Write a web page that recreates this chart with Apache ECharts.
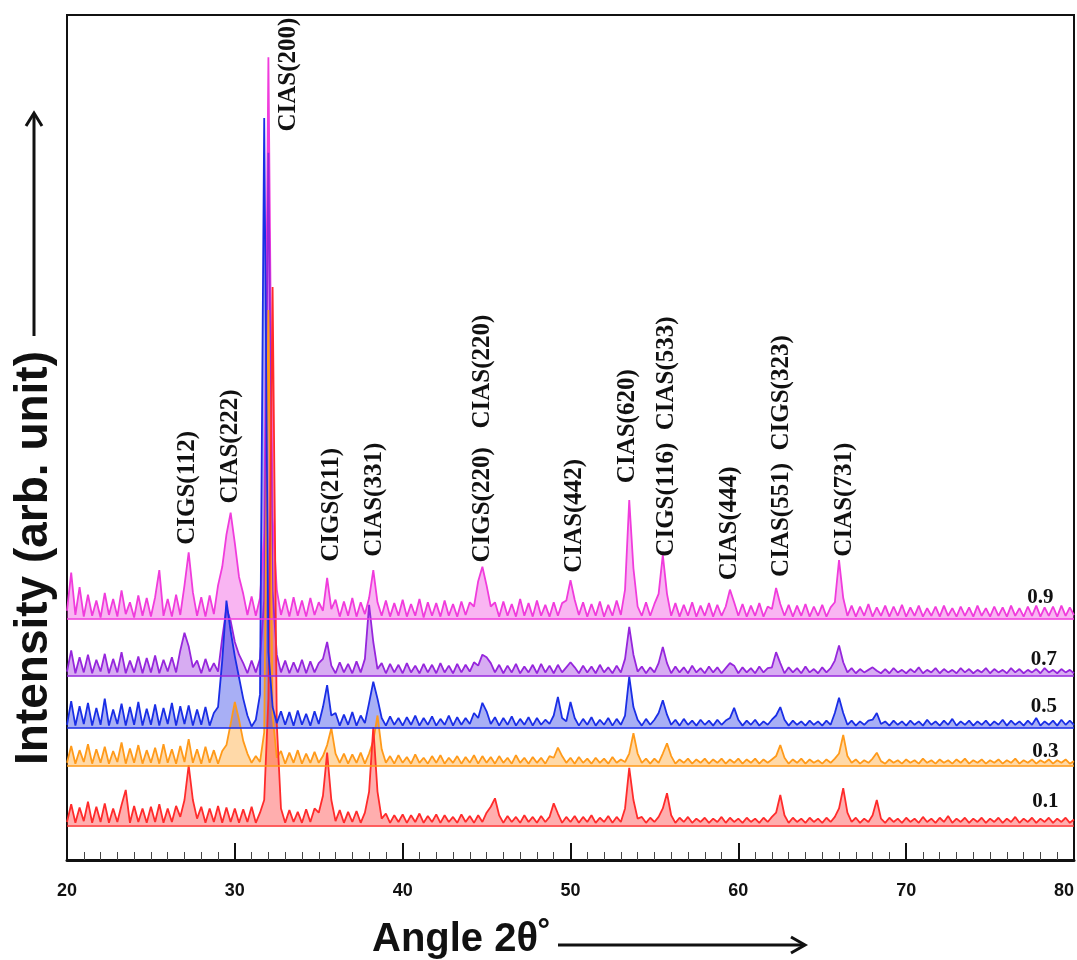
<!DOCTYPE html>
<html>
<head>
<meta charset="UTF-8">
<title>XRD CIGS / CIAS</title>
<script src="https://cdn.jsdelivr.net/npm/echarts@6/dist/echarts.min.js"></script>
</head>
<body style="margin:0;background:#ffffff">
<div id="main" style="width:1077px;height:960px"></div>
<script>
// scan grid: 20..80 deg, 0.25 deg step
var scanStart = 20, scanStep = 0.25;

var seriesNames = ['0.9', '0.7', '0.5', '0.3', '0.1'];
var offsets = [28.5, 21.8, 15.6, 11.1, 4.1];   // vertical shift of each pattern
var colors = ['#f03cdc', '#9626dc', '#1a2ee6', '#ff9a1a', '#ff2b2b'];

// intensity above each pattern's own baseline
var y09 = [
  1.0, 5.5, 0.5, 3.8, 0.3, 2.9, 0.4, 2.2, 0.2, 3.1, 0.5, 2.4, 0.3, 3.4, 0.6, 2.0, 0.2, 2.8, 0.4, 2.5,
  0.3, 2.6, 5.8, 0.4, 2.4, 0.3, 2.9, 0.5, 4.0, 7.9, 3.2, 0.4, 2.6, 0.3, 2.8, 0.6, 4.0, 6.2, 10.0, 12.6,
  9.0, 5.0, 3.0, 0.5, 2.7, 0.4, 2.5, 10.0, 66.5, 12.0, 3.5, 0.5, 2.4, 0.3, 2.6, 0.4, 2.2, 0.3, 2.5, 0.5,
  2.0, 1.0, 4.9, 1.2, 2.3, 0.3, 2.1, 0.4, 2.5, 0.3, 2.0, 0.6, 2.5, 5.8, 2.0, 0.4, 2.2, 0.3, 1.9, 0.4,
  2.3, 0.3, 1.8, 0.4, 2.4, 0.2, 2.0, 0.4, 1.9, 0.3, 2.2, 0.4, 1.8, 0.3, 2.1, 0.5, 2.0, 1.5, 4.5, 6.2,
  4.0, 1.5, 2.0, 0.3, 2.1, 0.4, 1.8, 0.3, 2.4, 0.4, 1.9, 0.3, 2.2, 0.4, 1.7, 0.3, 2.0, 0.4, 1.9, 2.2,
  4.6, 2.3, 0.5, 2.0, 0.3, 1.8, 0.4, 2.1, 0.3, 1.7, 0.4, 2.2, 0.5, 3.5, 14.1, 6.0, 1.5, 0.4, 2.0, 0.4,
  1.8, 3.0, 7.6, 3.0, 0.4, 1.9, 0.3, 1.7, 0.4, 2.0, 0.3, 1.6, 0.4, 1.9, 0.3, 1.7, 0.4, 1.5, 3.5, 2.0,
  0.4, 1.8, 0.3, 1.6, 0.4, 1.9, 0.3, 1.5, 1.2, 3.7, 1.8, 0.4, 1.7, 0.3, 1.6, 0.4, 1.8, 0.3, 1.5, 0.4,
  1.7, 0.3, 1.4, 2.0, 7.0, 2.5, 0.4, 1.6, 0.3, 1.5, 0.4, 1.8, 0.3, 1.4, 0.4, 1.6, 0.3, 1.5, 0.4, 1.7,
  0.3, 1.4, 0.4, 1.6, 0.3, 1.3, 0.4, 1.5, 0.3, 1.6, 0.4, 1.3, 0.3, 1.5, 0.4, 1.4, 0.3, 1.6, 0.4, 1.3,
  0.3, 1.5, 0.4, 1.4, 0.3, 1.6, 0.4, 1.3, 0.3, 1.5, 0.4, 1.6, 0.3, 1.4, 0.4, 1.5, 0.3, 1.6, 0.4, 1.4,
  0.5
];
var y07 = [
  0.5, 3.0, 0.3, 2.2, 0.4, 2.5, 0.3, 1.9, 0.5, 2.6, 0.3, 2.0, 0.4, 2.8, 0.3, 1.8, 0.4, 2.3, 0.3, 2.1,
  0.4, 2.4, 0.3, 1.9, 0.5, 2.2, 0.4, 3.0, 5.1, 3.5, 1.0, 1.8, 0.3, 2.0, 0.5, 1.5, 0.5, 4.5, 8.0, 6.5,
  4.0, 2.5, 1.5, 0.3, 1.8, 0.4, 2.0, 9.0, 61.9, 10.0, 2.5, 0.4, 1.8, 0.3, 1.6, 0.4, 1.9, 0.3, 1.7, 0.4,
  1.5, 2.0, 4.0, 1.2, 0.3, 1.6, 0.4, 1.4, 0.3, 1.7, 0.4, 2.0, 8.4, 4.0, 0.8, 1.5, 0.3, 1.4, 0.4, 1.3,
  0.3, 1.5, 0.4, 1.2, 0.3, 1.4, 0.4, 1.3, 0.3, 1.5, 0.4, 1.2, 0.3, 1.4, 0.4, 1.3, 0.5, 1.6, 1.2, 2.5,
  2.2, 1.5, 0.4, 1.3, 0.3, 1.2, 0.4, 1.4, 0.3, 1.1, 0.4, 1.3, 0.3, 1.4, 0.4, 1.2, 0.3, 1.3, 0.4, 1.0,
  1.6, 1.0, 0.3, 1.2, 0.4, 1.1, 0.3, 1.3, 0.4, 1.0, 0.3, 1.2, 0.4, 2.0, 5.8, 2.5, 0.5, 1.1, 0.3, 1.0,
  0.4, 1.5, 3.4, 1.5, 0.3, 1.1, 0.4, 1.0, 0.3, 1.2, 0.4, 0.9, 0.3, 1.1, 0.4, 1.0, 0.3, 0.9, 1.5, 1.2,
  0.3, 1.0, 0.4, 0.9, 0.3, 1.1, 0.4, 0.9, 1.0, 2.8, 1.5, 0.3, 1.0, 0.4, 0.9, 0.3, 1.1, 0.4, 0.8, 0.3,
  1.0, 0.4, 0.9, 1.8, 3.6, 1.6, 0.4, 0.9, 0.3, 0.8, 0.4, 0.7, 1.0, 0.6, 0.3, 0.8, 0.3, 0.9, 0.4, 0.7,
  0.3, 0.8, 0.4, 1.0, 0.3, 0.7, 0.4, 0.9, 0.3, 0.8, 0.4, 0.7, 0.3, 0.9, 0.4, 0.8, 0.3, 0.7, 0.4, 0.9,
  0.3, 0.8, 0.4, 0.7, 0.3, 0.9, 0.4, 0.8, 0.3, 0.7, 0.4, 0.8, 0.3, 0.9, 0.4, 0.7, 0.3, 0.8, 0.4, 0.7,
  0.3
];
var y05 = [
  0.4, 3.2, 0.3, 2.6, 0.5, 3.0, 0.3, 2.4, 0.4, 3.5, 0.3, 2.2, 0.5, 2.9, 0.3, 2.5, 0.4, 3.1, 0.3, 2.3,
  0.4, 2.8, 0.3, 2.4, 0.5, 3.0, 0.3, 2.6, 0.5, 2.7, 0.3, 2.2, 0.4, 2.5, 0.3, 1.8, 2.5, 8.0, 15.1, 11.5,
  8.5, 6.0, 3.5, 1.5, 0.2, 1.0, 4.0, 72.2, 9.0, 2.5, 0.6, 2.0, 0.4, 1.9, 0.3, 2.1, 0.4, 1.7, 0.3, 2.0,
  0.5, 2.5, 5.1, 1.5, 1.8, 0.3, 1.6, 0.4, 1.9, 0.3, 1.5, 0.6, 3.0, 5.5, 3.5, 1.2, 0.3, 1.4, 0.4, 1.2,
  0.3, 1.3, 0.4, 1.5, 0.3, 1.2, 0.4, 1.4, 0.3, 1.1, 0.4, 1.5, 0.3, 1.3, 0.4, 1.2, 0.5, 1.8, 1.2, 3.0,
  2.0, 0.5, 1.3, 0.3, 1.2, 0.4, 1.4, 0.3, 1.1, 0.4, 1.3, 0.3, 1.2, 0.4, 1.0, 0.5, 1.5, 3.7, 1.2, 0.8,
  3.1, 1.2, 0.3, 1.1, 0.4, 1.3, 0.3, 1.0, 0.4, 1.2, 0.3, 1.1, 0.4, 1.5, 6.1, 2.5, 1.0, 0.3, 1.1, 0.4,
  1.0, 1.8, 3.3, 1.6, 0.4, 1.0, 0.3, 1.1, 0.4, 0.9, 0.3, 1.0, 0.4, 0.9, 0.3, 1.0, 0.4, 0.9, 1.2, 2.4,
  1.0, 0.3, 0.9, 0.4, 1.0, 0.3, 0.8, 0.4, 1.0, 1.5, 2.5, 1.0, 0.3, 0.9, 0.4, 0.8, 0.3, 0.9, 0.4, 0.8,
  0.3, 0.9, 0.4, 1.8, 3.6, 1.8, 0.4, 0.9, 0.3, 0.8, 0.4, 0.9, 1.0, 1.8, 0.5, 0.8, 0.3, 0.9, 0.4, 0.8,
  0.3, 0.9, 0.4, 0.8, 0.3, 1.0, 0.4, 0.8, 0.3, 0.9, 0.4, 1.1, 0.3, 0.8, 0.4, 0.9, 0.3, 0.8, 0.4, 0.9,
  0.3, 0.8, 0.4, 1.0, 0.3, 0.9, 0.4, 0.8, 0.3, 0.9, 0.4, 1.2, 0.3, 0.8, 0.4, 0.9, 0.3, 1.0, 0.4, 0.9,
  0.4
];
var y03 = [
  0.4, 2.4, 0.3, 1.9, 0.5, 2.6, 0.3, 2.0, 0.4, 2.3, 0.3, 1.8, 0.5, 2.8, 0.3, 2.1, 0.4, 2.5, 0.3, 1.9,
  0.4, 2.2, 0.3, 2.6, 0.4, 2.0, 0.3, 2.4, 0.5, 3.2, 0.4, 2.0, 0.3, 2.3, 0.4, 1.9, 0.3, 1.8, 2.5, 5.0,
  7.6, 5.5, 3.0, 1.5, 0.4, 1.2, 0.5, 4.0, 54.0, 6.0, 1.0, 1.8, 0.3, 1.6, 0.4, 1.9, 0.3, 1.5, 0.4, 1.7,
  0.4, 1.2, 2.5, 4.5, 1.5, 0.4, 1.5, 0.3, 1.4, 0.4, 1.6, 0.3, 1.5, 3.0, 6.0, 2.0, 0.4, 1.2, 0.3, 1.3,
  0.4, 1.1, 0.3, 1.4, 0.4, 1.0, 0.3, 1.2, 0.4, 1.3, 0.3, 1.0, 0.4, 1.2, 0.3, 1.1, 0.4, 1.3, 0.3, 1.2,
  0.4, 1.1, 0.3, 1.2, 0.4, 1.0, 0.3, 1.3, 0.4, 1.0, 0.3, 1.1, 0.4, 1.0, 0.3, 1.2, 1.0, 2.2, 1.2, 0.4,
  1.0, 0.3, 1.1, 0.4, 0.9, 0.3, 1.0, 0.4, 0.9, 0.3, 1.1, 0.4, 0.8, 0.5, 1.5, 3.9, 1.5, 0.4, 0.9, 0.3,
  0.9, 0.4, 1.5, 2.7, 1.2, 0.3, 0.8, 0.4, 0.9, 0.3, 0.8, 0.4, 0.9, 0.3, 0.8, 0.4, 0.9, 0.3, 0.8, 0.4,
  0.9, 0.3, 0.8, 0.4, 0.9, 0.3, 0.8, 0.4, 0.8, 1.2, 2.5, 1.0, 0.3, 0.8, 0.4, 0.9, 0.3, 0.8, 0.4, 0.7,
  0.3, 0.8, 0.4, 0.9, 1.5, 3.7, 1.2, 0.4, 0.8, 0.3, 0.7, 0.4, 0.9, 1.6, 0.6, 0.3, 0.8, 0.4, 0.7, 0.3,
  0.8, 0.4, 0.7, 0.3, 0.9, 0.4, 0.7, 0.3, 0.8, 0.4, 0.7, 0.3, 0.8, 0.4, 0.9, 0.3, 0.7, 0.4, 0.8, 0.3,
  0.7, 0.4, 0.8, 0.3, 0.7, 0.4, 0.9, 0.3, 0.7, 0.4, 0.8, 0.3, 0.7, 0.4, 0.8, 0.3, 0.7, 0.4, 0.8, 0.3,
  0.6
];
var y01 = [
  0.4, 2.5, 0.3, 2.1, 0.5, 2.8, 0.3, 2.2, 0.4, 2.6, 0.3, 2.0, 0.4, 2.4, 4.2, 0.3, 2.3, 0.4, 2.0, 0.3,
  2.2, 0.4, 2.5, 0.3, 2.0, 0.4, 2.3, 1.0, 3.0, 7.1, 3.0, 0.8, 2.2, 0.3, 2.0, 0.4, 2.3, 0.3, 2.1, 0.4,
  2.0, 0.3, 1.9, 0.4, 2.2, 0.3, 1.5, 3.0, 15.0, 63.7, 12.0, 2.0, 0.3, 1.8, 0.4, 1.6, 0.3, 1.9, 0.4, 2.0,
  1.5, 3.5, 8.6, 3.0, 0.5, 1.8, 0.3, 1.6, 0.4, 1.7, 0.3, 1.5, 4.0, 11.6, 4.0, 0.8, 1.4, 0.3, 1.2, 0.4,
  1.3, 0.3, 1.2, 0.4, 1.4, 0.3, 1.1, 0.4, 1.3, 0.3, 1.2, 0.4, 1.0, 0.3, 1.3, 0.4, 1.1, 0.3, 1.2, 0.4,
  1.5, 2.2, 3.2, 1.2, 0.3, 1.1, 0.4, 1.0, 0.3, 1.2, 0.4, 1.0, 0.3, 1.1, 0.4, 1.0, 2.6, 1.4, 0.3, 1.0,
  0.4, 1.1, 0.3, 1.0, 0.4, 1.2, 0.3, 0.9, 0.4, 1.1, 0.3, 1.0, 0.4, 2.0, 6.8, 3.0, 0.8, 1.0, 0.3, 0.9,
  0.4, 1.0, 2.0, 3.8, 1.2, 0.3, 0.9, 0.4, 1.0, 0.3, 0.8, 0.4, 0.9, 0.3, 0.8, 0.4, 1.0, 0.3, 0.9, 0.4,
  0.8, 0.3, 0.9, 0.4, 0.8, 0.3, 0.9, 0.4, 1.0, 1.5, 3.6, 1.2, 0.3, 0.9, 0.4, 0.8, 0.3, 0.9, 0.4, 0.8,
  0.3, 0.9, 0.4, 1.0, 2.0, 4.4, 1.5, 0.4, 0.9, 0.3, 0.8, 0.4, 1.2, 3.0, 0.8, 0.3, 0.9, 0.4, 0.8, 0.3,
  0.9, 0.4, 0.8, 0.3, 1.0, 0.4, 0.8, 0.3, 0.9, 0.4, 1.1, 0.3, 0.8, 0.4, 0.9, 0.3, 0.8, 0.4, 0.9, 0.3,
  0.8, 0.4, 0.9, 0.3, 0.8, 0.4, 1.0, 0.3, 0.8, 0.4, 0.9, 0.3, 0.8, 0.4, 0.9, 0.3, 0.8, 0.4, 0.9, 0.3,
  0.7
];
var patterns = [y09, y07, y05, y03, y01];

// peak annotations: [2theta, intensity at text foot, text]
var peakLabels = [
  [27.2, 37.3, 'CIGS(112)'],
  [29.76, 42.2, 'CIAS(222)'],
  [33.2, 86.2, 'CIAS(200)'],
  [35.77, 35.3, 'CIGS(211)'],
  [38.33, 35.9, 'CIAS(331)'],
  [44.76, 35.2, 'CIGS(220)   CIAS(220)'],
  [50.24, 34.0, 'CIAS(442)'],
  [53.39, 44.6, 'CIAS(620)'],
  [55.71, 35.9, 'CIGS(116)  CIAS(533)'],
  [59.46, 33.1, 'CIAS(444)'],
  [62.56, 33.5, 'CIAS(551)  CIGS(323)'],
  [66.31, 35.9, 'CIAS(731)']
];
// composition tags at the right end of each pattern: [2theta, intensity]
var tagPos = [[78.0, 31.1], [78.2, 23.7], [78.2, 18.1], [78.3, 12.8], [78.3, 6.9]];

var xTicks = [20, 30, 40, 50, 60, 70, 80];

var myChart = echarts.init(document.getElementById('main'));

// draw order: magenta, purple, orange, red, blue on top
var drawOrder = [0, 1, 3, 4, 2];
var series = drawOrder.map(function (k) {
  var data = patterns[k].map(function (v, i) {
    return [scanStart + i * scanStep, offsets[k] + v];
  });
  return {
    name: seriesNames[k],
    type: 'line',
    data: data,
    symbol: 'none',
    animation: false,
    lineStyle: { color: colors[k], width: 1.8 },
    itemStyle: { color: colors[k] },
    // noisy band filled down to its own baseline
    areaStyle: { color: colors[k], opacity: 0.38, origin: offsets[k] },
    markLine: {
      silent: true,
      symbol: 'none',
      animation: false,
      label: { show: false },
      lineStyle: { color: colors[k], width: 1.5, type: 'solid' },
      data: [{ yAxis: offsets[k] }]
    }
  };
});

var option = {
  backgroundColor: '#ffffff',
  animation: false,
  grid: {
    left: 67, right: 3, top: 15, bottom: 100,
    show: true, borderColor: '#111', borderWidth: 2, backgroundColor: 'transparent'
  },
  xAxis: {
    type: 'value',
    min: xTicks[0],
    max: xTicks[xTicks.length - 1],
    interval: 10,
    axisLine: { lineStyle: { color: '#111', width: 3 } },
    axisTick: { inside: true, length: 17, lineStyle: { color: '#111', width: 2 } },
    minorTick: { show: true, splitNumber: 10, length: 8, lineStyle: { color: '#444', width: 1 } },
    splitLine: { show: false },
    axisLabel: {
      margin: 22,
      color: '#111',
      fontFamily: 'Liberation Sans',
      fontWeight: 'bold',
      fontSize: 18,
      alignMaxLabel: 'right'
    }
  },
  yAxis: {
    type: 'value',
    min: 0,
    max: 100,
    axisLine: { show: true, lineStyle: { color: '#111', width: 2 } },
    axisTick: { show: false },
    axisLabel: { show: false },
    splitLine: { show: false }
  },
  series: series
};
myChart.setOption(option);

// annotations placed through the axes
var graphics = [];
peakLabels.forEach(function (p) {
  var pt = myChart.convertToPixel({ gridIndex: 0 }, [p[0], p[1]]);
  graphics.push({
    type: 'text',
    x: pt[0], y: pt[1],
    rotation: Math.PI / 2,
    style: {
      text: p[2],
      fill: '#111',
      font: 'bold 25px "Liberation Serif"',
      textAlign: 'left',
      textVerticalAlign: 'middle'
    },
    z: 10
  });
});
tagPos.forEach(function (t, k) {
  var pt = myChart.convertToPixel({ gridIndex: 0 }, t);
  graphics.push({
    type: 'text',
    x: pt[0], y: pt[1],
    style: {
      text: seriesNames[k],
      fill: '#111',
      font: 'bold 21px "Liberation Serif"',
      textAlign: 'center',
      textVerticalAlign: 'middle'
    },
    z: 10
  });
});

// axis titles with arrows
graphics.push({
  type: 'text', x: 34, y: 765, rotation: Math.PI / 2,
  style: { text: 'Intensity (arb. unit)', fill: '#111', font: 'bold 46px "Liberation Sans"', textAlign: 'left', textVerticalAlign: 'middle' }
});
graphics.push({ type: 'line', shape: { x1: 34, y1: 336, x2: 34, y2: 114 }, style: { stroke: '#111', lineWidth: 3 } });
graphics.push({ type: 'polyline', shape: { points: [[26, 126], [34, 113], [42, 126]] }, style: { stroke: '#111', lineWidth: 3, fill: null } });

graphics.push({
  type: 'text', x: 372, y: 940,
  style: { text: 'Angle 2θ˚', fill: '#111', font: 'bold 40px "Liberation Sans"', textAlign: 'left', textVerticalAlign: 'middle' }
});
graphics.push({ type: 'line', shape: { x1: 558, y1: 945, x2: 803, y2: 945 }, style: { stroke: '#111', lineWidth: 3 } });
graphics.push({ type: 'polyline', shape: { points: [[791, 937], [805, 945], [791, 953]] }, style: { stroke: '#111', lineWidth: 3, fill: null } });

myChart.setOption({ graphic: graphics });
</script>
</body>
</html>
